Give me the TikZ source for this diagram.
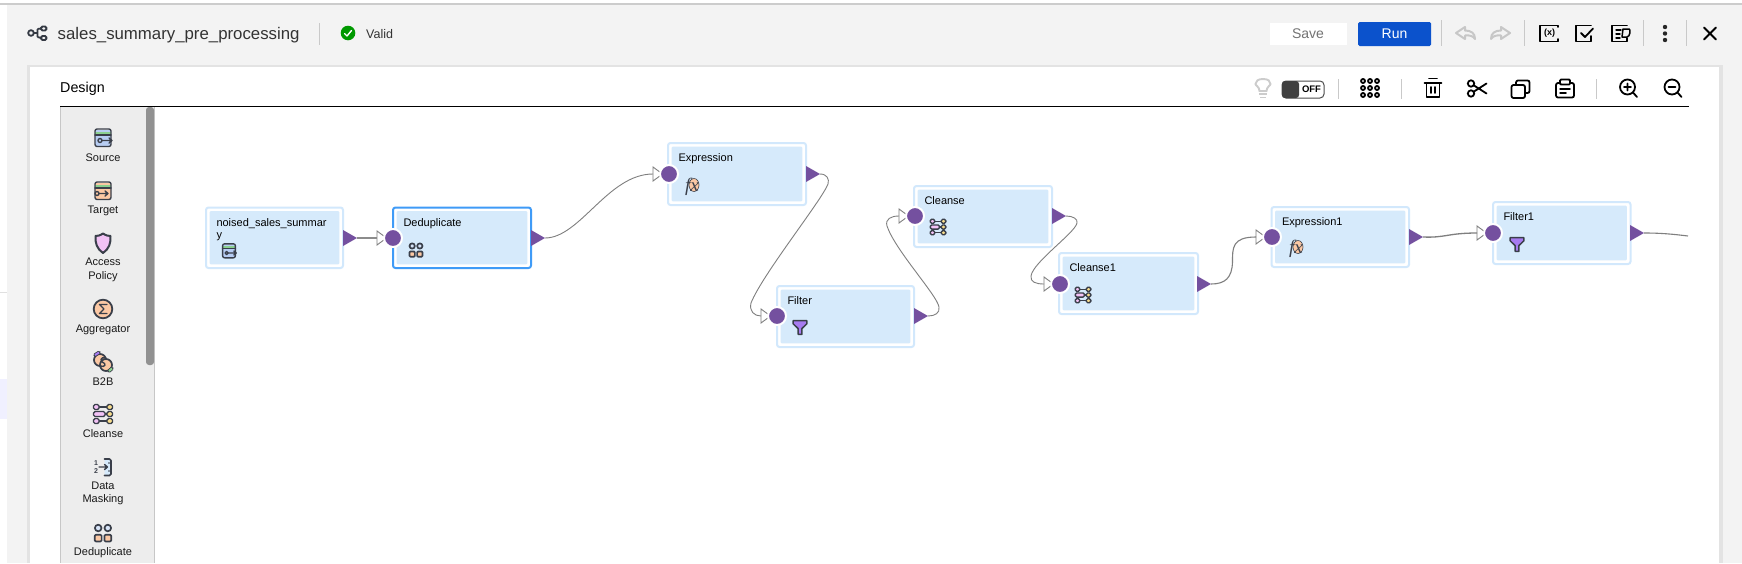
\documentclass[tikz,border=0pt]{standalone}
\usepackage{fontspec}
\setmainfont{Liberation Sans}
\newfontfamily\fxfont{Liberation Serif}
\usetikzlibrary{calc}
\definecolor{bgcol}{HTML}{F3F3F3}
\definecolor{rimcol}{HTML}{D2E8FC}
\definecolor{boxcol}{HTML}{D6EAFB}
\definecolor{selcol}{HTML}{3F9BF7}
\definecolor{portcol}{HTML}{74509F}
\definecolor{wirecol}{HTML}{7F7F7F}
\definecolor{inkcol}{HTML}{3A3F4A}
\definecolor{greencol}{HTML}{8BD08F}
\definecolor{bluefill}{HTML}{B7CDF3}
\definecolor{orangefill}{HTML}{FBC8A4}
\definecolor{lilacfill}{HTML}{F2C2F5}
\definecolor{yellowfill}{HTML}{F7DC8C}
\definecolor{purplefill}{HTML}{A77BF0}
\definecolor{runcol}{HTML}{0B52CC}
\definecolor{sepcol}{HTML}{C9C9C9}
\definecolor{palcol}{HTML}{EDEDED}
\definecolor{scrollcol}{HTML}{919191}
\tikzset{
  stagebox/.style={rectangle,draw=rimcol,line width=2,fill=white,rounded corners=2.5,inner sep=0},
  stagesel/.style={stagebox,draw=selcol},
  stagefill/.style={rectangle,fill=boxcol,rounded corners=1,inner sep=0},
  stagetext/.style={font=\fontsize{11}{12}\selectfont,anchor=north west,inner sep=0,text=black},
  paltext/.style={font=\fontsize{11}{13}\selectfont,anchor=center,inner sep=0,text=black!90},
  headtext/.style={inner sep=0,anchor=west,text=black!80},
  wire/.style={draw=wirecol,line width=0.9},
  wirethick/.style={draw=wirecol!90,line width=1.8},
  inport/.style={circle,fill=portcol,draw=white,line width=2,minimum size=18,inner sep=0},
  sep/.style={draw=sepcol,line width=1},
  tool/.style={draw=black,line width=1.8,line cap=round,line join=round},
  ink/.style={draw=inkcol,line width=1.4,line join=round,line cap=round},
  pics/srcicon/.style={code={
    \fill[bluefill,rounded corners=2] (-8,-8) rectangle (8,8);
    \fill[greencol] (-8,-6.5) rectangle (8,-3.5);
    \draw[ink,rounded corners=2] (-8,-9) rectangle (8,8.5);
    \draw[ink] (-8,-3) -- (8,-3);
    \draw[ink] (-3,2.5) circle (2); \draw[ink] (-1,2.5) -- (9,2.5) (6,0) -- (9,2.5) -- (6,5);
  }},
  pics/tgticon/.style={code={
    \fill[orangefill,rounded corners=2] (-8,-8) rectangle (8,8);
    \fill[greencol] (-8,-6.5) rectangle (8,-3.5);
    \draw[ink,rounded corners=2] (-8,-9) rectangle (8,8.5);
    \draw[ink] (-8,-3) -- (8,-3);
    \draw[ink] (-6,2.5) circle (2); \draw[ink] (-4,2.5) -- (5,2.5) (2,0) -- (5,2.5) -- (2,5);
  }},
  pics/shieldicon/.style={code={
    \draw[ink,line width=2,fill=lilacfill] (0,-9.5) .. controls (3,-7.5) and (5,-7) .. (7.5,-7) .. controls (8,0) and (6,6) .. (0,10) .. controls (-6,6) and (-8,0) .. (-7.5,-7) .. controls (-5,-7) and (-3,-7.5) .. (0,-9.5) -- cycle;
  }},
  pics/aggicon/.style={code={
    \draw[ink,line width=1.8,fill=orangefill] (0,0) circle (9.3);
    \draw[ink] (4,-4.5) -- (-3.5,-4.5) -- (1,0) -- (-3.5,4.5) -- (4,4.5);
  }},
  pics/btobicon/.style={code={
    \draw[ink,line width=1.7,fill=orangefill] (-3,-2) circle (6);
    \draw[ink,line width=1.7,fill=orangefill] (3,3) circle (6);
    \draw[ink] (3,-4) .. controls (-3,-6) and (-3,0) .. (0,0.5) .. controls (3,1) and (3,6) .. (-3,4);
    \draw[draw=inkcol,line width=3.6,line cap=round] (-8,-7) -- (-4,-9.5);
    \draw[draw=purplefill,line width=2] (-8,-7) -- (-4,-9.5);
    \draw[draw=inkcol,line width=3.6,line cap=round] (6,9) -- (9,6.5);
    \draw[draw=greencol,line width=2] (6,9) -- (9,6.5);
  }},
  pics/cleanicon/.style={code={
    \draw[ink] (-6,-7) -- (7,-7) (2,0) -- (7,0) (-6,7) -- (7,7);
    \foreach \yy in {-7,7}{
      \draw[ink,fill=lilacfill,rounded corners=1.5] (-9.5,\yy-2.5) rectangle (-4,\yy+2.5);
    }
    \draw[ink,fill=lilacfill,rounded corners=1.5] (-9.5,-2.5) rectangle (2,2.5);
    \foreach \yy in {-7,0,7}{
      \draw[ink,fill=yellowfill,rounded corners=1.5] (4,\yy-2.5) rectangle (9.5,\yy+2.5);
    }
  }},
  pics/maskicon/.style={code={
    \draw[ink,fill=boxcol,line width=1.7,rounded corners=1.5] (1.5,-8) -- (8,-8) -- (8,8.5) -- (1.5,8.5);
    \draw[ink] (-4,0) -- (4,0) (1.5,-2.5) -- (4.5,0) -- (1.5,2.5);
    \node[font=\fontsize{7}{7}\selectfont\bfseries,text=inkcol,inner sep=0] (mk1) at (-7,-3.5) {1};
    \node[font=\fontsize{7}{7}\selectfont\bfseries,text=inkcol,inner sep=0] (mk2) at (-7,3.8) {2};
    \fill[inkcol] (6,-4) circle (0.8) (6,4) circle (0.8);
  }},
  pics/dedupicon/.style={code={
    \draw[ink,line width=1.7,fill=bluefill!55] (-4.8,-5) circle (3.3) (4.8,-5) circle (3.3);
    \draw[ink,line width=1.7,fill=orangefill,rounded corners=1] (-8.2,1.8) rectangle (-1.4,8.4);
    \draw[ink,line width=1.7,fill=orangefill,rounded corners=1] (1.4,1.8) rectangle (8.2,8.4);
  }},
  pics/fxicon/.style={code={
    \fill[orangefill] (2,-2) ellipse (5 and 6.5);
    \draw[ink,line width=0.6] (2,-2) ellipse (5 and 6.5);
    \node[font=\fontsize{19}{19}\selectfont\fxfont\itshape,text=inkcol,inner sep=0] (fxt) at (0,0) {fx};
  }},
  pics/funnelicon/.style={code={
    \draw[ink,line width=1.5,fill=purplefill] (-6.5,-6) -- (6.5,-6) -- (6.5,-3) -- (1.8,1.5) -- (1.8,7) -- (-1.8,7) -- (-1.8,1.5) -- (-6.5,-3) -- cycle;
  }},
}
% stage box: [style], x1, y1, x2, y2, name, label
\newcommand{\stagebox}[7][stagebox]{%
  \node[#1,minimum width=#4-#2,minimum height=#5-#3] (#6) at ({(#2+#4)/2},{(#3+#5)/2}) {};
  \node[stagefill,minimum width=#4-#2-7.4,minimum height=#5-#3-7.4] (#6-fill) at ({(#2+#4)/2},{(#3+#5)/2}) {};
  \node[stagetext,align=left] (#6-label) at (#2+10.3,#3+10.7) {#7};
}
% output port: name, tip x, y
\newcommand{\outport}[3]{%
  \coordinate (#1-out) at (#2,#3);
  \fill[portcol] (#2,#3) -- ++(-14,-8) -- ++(0,16) -- cycle;
}
% input port: name, circle x, y
\newcommand{\inportat}[3]{%
  \coordinate (#1-in) at (#2-16,#3);
  \draw[draw=wirecol,line width=0.9,fill=white] (#2-16,#3-7) -- (#2-6.5,#3) -- (#2-16,#3+7) -- cycle;
  \node[inport] (#1-port) at (#2,#3) {};
}
\begin{document}
\begin{tikzpicture}[x=1pt,y=-1pt]
\useasboundingbox (0,0) rectangle (1742,563);
% page background
\fill[bgcol] (0,0) rectangle (1742,563);
\fill[white] (0,0) rectangle (1742,3);
\fill[black!20] (0,3) rectangle (1742,5);
\fill[white] (0,5) rectangle (7,563);
\fill[black!12] (0,291.5) rectangle (7,292.5);
\fill[blue!6] (0,379) rectangle (7,419);
% panel
\fill[black!11] (27,65) rectangle (1723,563);
\fill[white] (30,67) rectangle (1719,563);
% header
\draw[draw=inkcol!90!black,line width=1.8] (31,33) circle (2.8);
\draw[draw=inkcol!90!black,line width=1.8,rounded corners=1.5] (41,26.5) rectangle (46.5,30.5) (41,36) rectangle (46.5,40);
\draw[draw=inkcol!90!black,line width=1.8] (34,33) -- (37,33) (37.5,29) -- (37.5,37) (37.5,29) -- (41,28.5) (37.5,37) -- (41,38);
\node[headtext,font=\fontsize{16.8}{18}\selectfont] (title) at (57.5,35) {sales\_summary\_pre\_processing};
\draw[sep] (319.5,23) -- (319.5,45);
\fill[green!60!black] (348,33) circle (7.3);
\draw[draw=white,line width=1.4,line cap=round,line join=round] (344.5,33.5) -- (347,36) -- (351.5,30.5);
\node[headtext,font=\fontsize{12.5}{14}\selectfont] (valid) at (366,34) {Valid};
\fill[white] (1270,23) rectangle (1347,45);
\node[font=\fontsize{14}{16}\selectfont,text=black!55,inner sep=0] (save) at (1308,34) {Save};
\fill[runcol,rounded corners=1.5] (1358,22) rectangle (1431,46);
\node[font=\fontsize{14}{16}\selectfont,text=white,inner sep=0] (run) at (1394.5,34) {Run};
\foreach \xx in {1441,1524,1643.5,1686} \draw[sep] (\xx,20) -- (\xx,46);
% undo / redo
\draw[tool,draw=black!22,line width=2] (1465,27) -- (1456,33) -- (1465,39) -- (1465,35.5) .. controls (1470,35) and (1473,36) .. (1475,39) .. controls (1475,33) and (1471,30.5) .. (1465,30.5) -- cycle;
\draw[tool,draw=black!22,line width=2] (1501,27) -- (1510,33) -- (1501,39) -- (1501,35.5) .. controls (1496,35) and (1493,36) .. (1491,39) .. controls (1491,33) and (1495,30.5) .. (1501,30.5) -- cycle;
% (x)
\draw[tool] (1558,27) -- (1558,25.5) -- (1540,25.5) -- (1540,41.5) -- (1558,41.5) -- (1558,39);
\node[font=\fontsize{9}{9}\selectfont\bfseries,inner sep=0] (varx) at (1549.5,33) {(x)};
% checklist
\draw[tool] (1591,25.5) -- (1576,25.5) -- (1576,41.5) -- (1591,41.5) -- (1591,36);
\draw[tool] (1581,33) -- (1585,37) -- (1593,28.5);
% doc with D
\draw[tool] (1627,25.5) -- (1612,25.5) -- (1612,41.5) -- (1627,41.5) -- (1627,38);
\draw[tool,line width=1.4] (1616,30) -- (1621,30) (1616,34) -- (1620,34) (1616,38) -- (1620,38);
\draw[tool,line width=1.5] (1623,29) -- (1629,29) .. controls (1631,29) and (1630,37) .. (1627,37) -- (1622,37) -- cycle;
% dots
\fill[black!85] (1665,27) circle (2.2) (1665,33.5) circle (2.2) (1665,40) circle (2.2);
% close
\draw[tool,line width=2] (1704,27.5) -- (1716,39.5) (1716,27.5) -- (1704,39.5);
% design header
\node[headtext,font=\fontsize{14.3}{16}\selectfont,text=black] (design) at (60,88.5) {Design};
\draw[draw=black,line width=1.1] (60,106.3) -- (1689,106.3);
% second toolbar
\draw[draw=black!20,line width=1.9] (1259.5,91) .. controls (1259.5,87) and (1255.5,85.5) .. (1255.5,84) .. controls (1255.5,81) and (1258,79) .. (1263,79) .. controls (1268,79) and (1270.5,81) .. (1270.5,84) .. controls (1270.5,85.5) and (1266.5,87) .. (1266.5,91) -- cycle;
\draw[draw=black!20,line width=1.9] (1259,94) -- (1267,94) (1260,97.5) -- (1266,97.5);
\draw[draw=black!70,line width=1,fill=white,rounded corners=4] (1282,81) rectangle (1324,98);
\fill[black!75,rounded corners=3] (1282,81) rectangle (1299,98);
\node[font=\fontsize{9.5}{10}\selectfont\bfseries,inner sep=0,text=black] (offtxt) at (1311.5,89.7) {OFF};
\foreach \xx in {1338,1401,1596.5} \draw[sep] (\xx,79) -- (\xx,99);
% grid
\foreach \xx in {-7,0,7}\foreach \yy in {-7,0,7}
  \draw[draw=black,line width=1.8] (1370+\xx,88+\yy) circle (2);
% trash
\draw[tool] (1424.5,83) -- (1441.5,83) (1429,78.5) -- (1437,78.5);
\draw[tool] (1426.5,83) -- (1426.5,97) -- (1439.5,97) -- (1439.5,83) (1431,87) -- (1431,93) (1435,87) -- (1435,93);
% scissors
\draw[tool] (1471,83.5) circle (3.2) (1471,93.5) circle (3.2);
\draw[tool] (1474,85.5) -- (1486.5,93.5) (1474,91.5) -- (1486.5,83.5);
% copy
\draw[tool,rounded corners=2] (1511.5,85) rectangle (1525,98);
\draw[tool,rounded corners=2] (1516,84) -- (1516,80.5) -- (1529.5,80.5) -- (1529.5,93) -- (1526,93);
% paste
\draw[tool,rounded corners=2] (1560,83) -- (1556,83) -- (1556,97.5) -- (1574,97.5) -- (1574,83) -- (1570,83);
\draw[tool,rounded corners=1] (1560,79.5) rectangle (1570,84.5);
\draw[tool,line width=1.5] (1560,89) -- (1570,89) (1560,93) -- (1566,93);
% zoom
\draw[tool] (1627.5,87) circle (7.5) (1633,92.5) -- (1637,97) (1624,87) -- (1631,87) (1627.5,83.5) -- (1627.5,90.5);
\draw[tool] (1672,87) circle (7.5) (1677.5,92.5) -- (1681.5,97) (1668.5,87) -- (1675.5,87);
% palette
\fill[palcol] (60,107) rectangle (155,563);
\draw[draw=black!22,line width=1] (60.5,107) -- (60.5,563) (154.5,107) -- (154.5,563);
\fill[scrollcol,rounded corners=3] (146,107) rectangle (154,365);
\pic at (103,138) {srcicon};
\node[paltext] (pal-source) at (103,157.3) {Source};
\pic at (103,191) {tgticon};
\node[paltext] (pal-target) at (103,211) {Target};
\pic at (103,243) {shieldicon};
\node[paltext,align=center] (pal-access) at (103,270) {Access\\[1.2pt]Policy};
\pic at (103,309) {aggicon};
\node[paltext] (pal-agg) at (103,329.7) {Aggregator};
\pic at (103,362) {btobicon};
\node[paltext] (pal-b2b) at (103,381.3) {B2B};
\pic at (103,414) {cleanicon};
\node[paltext] (pal-cleanse) at (103,433.3) {Cleanse};
\pic at (103,467) {maskicon};
\node[paltext,align=center] (pal-mask) at (103,493) {Data\\Masking};
\pic at (103,533) {dedupicon};
\node[paltext] (pal-dedup) at (103,552.3) {Deduplicate};
% stages
\stagebox{206}{207.5}{343}{268}{noised}{noised\_sales\_summar\\y}
\stagebox[stagesel]{393}{207.5}{531}{268}{dedup}{Deduplicate}
\stagebox{668}{143}{806}{205}{expr}{Expression}
\stagebox{777}{286}{914}{347}{filter}{Filter}
\stagebox{914}{186}{1052}{247}{cleanse}{Cleanse}
\stagebox{1059}{253}{1198}{314}{cleansea}{Cleanse1}
\stagebox{1271.5}{207}{1409}{267}{expra}{Expression1}
\stagebox{1493}{202}{1630.5}{264}{filtera}{Filter1}
\pic[scale=0.8] at (229,251) {srcicon};
\pic[scale=0.8] at (416,250) {dedupicon};
\pic at (692,187) {fxicon};
\pic[scale=1.05] at (800,327) {funnelicon};
\pic[scale=0.82] at (938,227) {cleanicon};
\pic[scale=0.82] at (1083,295) {cleanicon};
\pic at (1296,249) {fxicon};
\pic[scale=1.05] at (1517,244) {funnelicon};
% ports
\outport{noised}{357}{238}
\inportat{dedup}{393}{238}
\outport{dedup}{545}{238}
\inportat{expr}{669}{174}
\outport{expr}{820}{174}
\inportat{filter}{777}{316}
\outport{filter}{928}{316}
\inportat{cleanse}{915}{216}
\outport{cleanse}{1066}{216}
\inportat{cleansea}{1060}{284}
\outport{cleansea}{1211}{284}
\inportat{expra}{1272}{237}
\outport{expra}{1423}{237}
\inportat{filtera}{1493}{233}
\outport{filtera}{1644}{233}
\coordinate (rightend) at (1688,236);
% connectors
\draw[wirethick] (noised-out) -- (dedup-in);
\draw[wire] (dedup-out) .. controls +(35,0) and +(-45,0) .. (expr-in);
\draw[wire] (expr-out) .. controls +(7,0) and (829.5,179) .. (828,184) .. controls (822,200) and (762,275) .. (751,303) .. controls (749,311) and (754,316) .. (filter-in);
\draw[wire] (filter-out) .. controls +(7,0) and (940,313) .. (939,307) .. controls (937,295) and (895,250) .. (887,226) .. controls (885,219) and (891,216) .. (cleanse-in);
\draw[wire] (cleanse-out) .. controls +(7,0) and (1078,219) .. (1077,223) .. controls (1075,233) and (1033,262) .. (1031,276) .. controls (1030,282) and (1036,284) .. (cleansea-in);
\draw[wire,line width=1.1] (cleansea-out) .. controls +(14,0) and (1232,278) .. (1232.5,262) .. controls (1232.5,248) and (1232,237) .. (expra-in);
\draw[wire,line width=1.3] (expra-out) .. controls +(22,1) and +(-29,0) .. (filtera-in);
\draw[wire,line width=1.1] (filtera-out) .. controls +(16,0) and +(-16,-2) .. (rightend);
\end{tikzpicture}
\end{document}
